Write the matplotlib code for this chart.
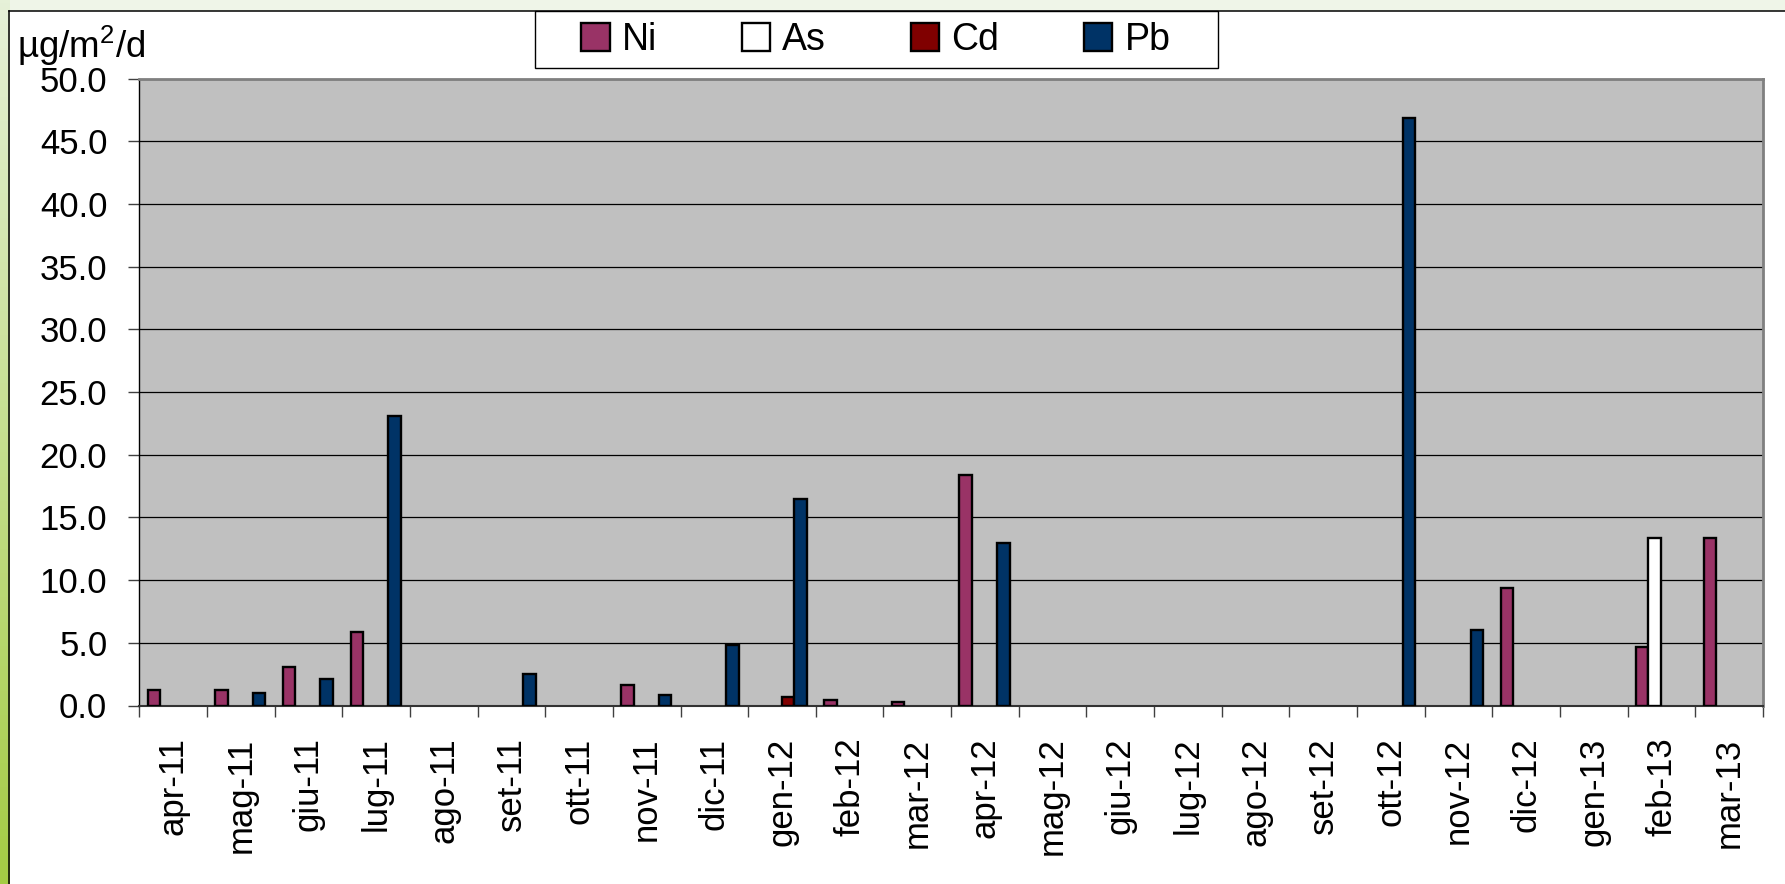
import matplotlib
matplotlib.use('Agg')
import matplotlib.pyplot as plt
import numpy as np
from matplotlib.patches import Patch, Rectangle
from matplotlib.lines import Line2D
from matplotlib.colors import LinearSegmentedColormap

categories = ['apr-11', 'mag-11', 'giu-11', 'lug-11', 'ago-11', 'set-11', 'ott-11',
              'nov-11', 'dic-11', 'gen-12', 'feb-12', 'mar-12', 'apr-12', 'mag-12',
              'giu-12', 'lug-12', 'ago-12', 'set-12', 'ott-12', 'nov-12', 'dic-12',
              'gen-13', 'feb-13', 'mar-13']

ni = [1.25, 1.25, 3.1, 5.85, None, None, None, 1.65, None, None, 0.45, 0.25,
      18.35, None, None, None, None, None, None, None, 9.4, None, 4.65, 13.35]
as_ = [None, None, None, None, None, None, None, None, None, None, None, None,
       None, None, None, None, None, None, None, None, None, None, 13.35, None]
cd = [None, None, None, None, None, None, None, None, None, 0.65, None, None,
      None, None, None, None, None, None, None, None, None, None, None, None]
pb = [None, 1.0, 2.1, 23.1, None, 2.5, None, 0.85, 4.85, 16.5, None, None,
      12.95, None, None, None, None, None, 46.9, 6.05, None, None, None, None]

series_names = ['Ni', 'As', 'Cd', 'Pb']
series_colors = ['#993366', '#FFFFFF', '#800000', '#003366']
yticks = [0, 5, 10, 15, 20, 25, 30, 35, 40, 45, 50]

plt.rcParams['font.family'] = ['Liberation Sans', 'DejaVu Sans']
plt.rcParams['mathtext.default'] = 'regular'

W, H = 1785, 884
fig = plt.figure(figsize=(W / 100, H / 100), dpi=100)
fig.patch.set_facecolor('white')

# decorative background strips
top_strip = Rectangle((0, 1 - 11 / H), 1, 11 / H, transform=fig.transFigure,
                      facecolor='#EFF5E8', edgecolor='none', zorder=0)
fig.add_artist(top_strip)
gax = fig.add_axes([0, 0, 9 / W, 1])
grad = np.linspace(0, 1, 256).reshape(-1, 1)
cmap = LinearSegmentedColormap.from_list('g', ['#A4CC44', '#E6F1D8'])
gax.imshow(grad, aspect='auto', cmap=cmap, origin='lower', extent=[0, 1, 0, 1])
gax.axis('off')
# outer frame lines
fig.add_artist(Line2D([9 / W, 9 / W], [0, 1 - 11 / H], transform=fig.transFigure,
                      color='black', lw=1.1))
fig.add_artist(Line2D([9 / W, 1], [1 - 11 / H, 1 - 11 / H], transform=fig.transFigure,
                      color='black', lw=1.1))

ax = fig.add_axes([139.3 / W, 1 - 705.5 / H, (1763 - 139.3) / W, (705.5 - 78.7) / H])
ax.set_facecolor('#C0C0C0')

x = np.arange(len(categories))
width = 0.185
offsets = [-0.285, -0.1, 0.085, 0.27]
for vals, name, col, off in zip([ni, as_, cd, pb], series_names, series_colors, offsets):
    v = np.array([np.nan if a is None else a for a in vals], dtype=float)
    ax.bar(x + off, v, width, color=col, edgecolor='black', linewidth=1.7, zorder=3)

ax.set_xlim(-0.5, len(categories) - 0.5)
ax.set_ylim(0, 50)
ax.set_yticks(yticks)
ax.set_yticklabels([f'{t:.1f}' for t in yticks])
ax.yaxis.grid(True, color='black', lw=0.9)
ax.set_axisbelow(True)

ax.set_xticks(np.arange(-0.5, len(categories), 1))
ax.set_xticklabels([])
ax.set_xticks(x, minor=True)
ax.set_xticklabels(categories, minor=True, rotation=90)

ax.tick_params(axis='x', which='major', length=8, direction='out', color='#404040', width=1)
ax.tick_params(axis='x', which='minor', length=0, pad=23, labelsize=25)
ax.tick_params(axis='y', length=8, pad=15, labelsize=25, color='#404040', width=1)

for s in ['top', 'right']:
    ax.spines[s].set_color('#808080')
    ax.spines[s].set_linewidth(2)
ax.spines['left'].set_color('black')
ax.spines['left'].set_linewidth(1)
ax.spines['bottom'].set_color('#333333')
ax.spines['bottom'].set_linewidth(1.5)

fig.text(17 / W, 1 - 58 / H, r'µg/m$^2$/d', fontsize=26.5, va='baseline', ha='left')

# legend
box = Rectangle((535 / W, 1 - 68 / H), (1218 - 535) / W, (68 - 11) / H,
                transform=fig.transFigure, facecolor='white', edgecolor='black', lw=1, zorder=1)
fig.add_artist(box)
handles = [Patch(facecolor=c, edgecolor='black', linewidth=1.7) for c in series_colors]
leg = fig.legend(handles, series_names, loc='center', ncol=4,
                 bbox_to_anchor=(876 / W, 1 - 40 / H), bbox_transform=fig.transFigure,
                 frameon=False, fontsize=27, handlelength=0.75, handleheight=0.75,
                 handletextpad=0.33, columnspacing=2.26, borderpad=0)
leg.set_zorder(2)

fig.savefig('out.png', dpi=100)
